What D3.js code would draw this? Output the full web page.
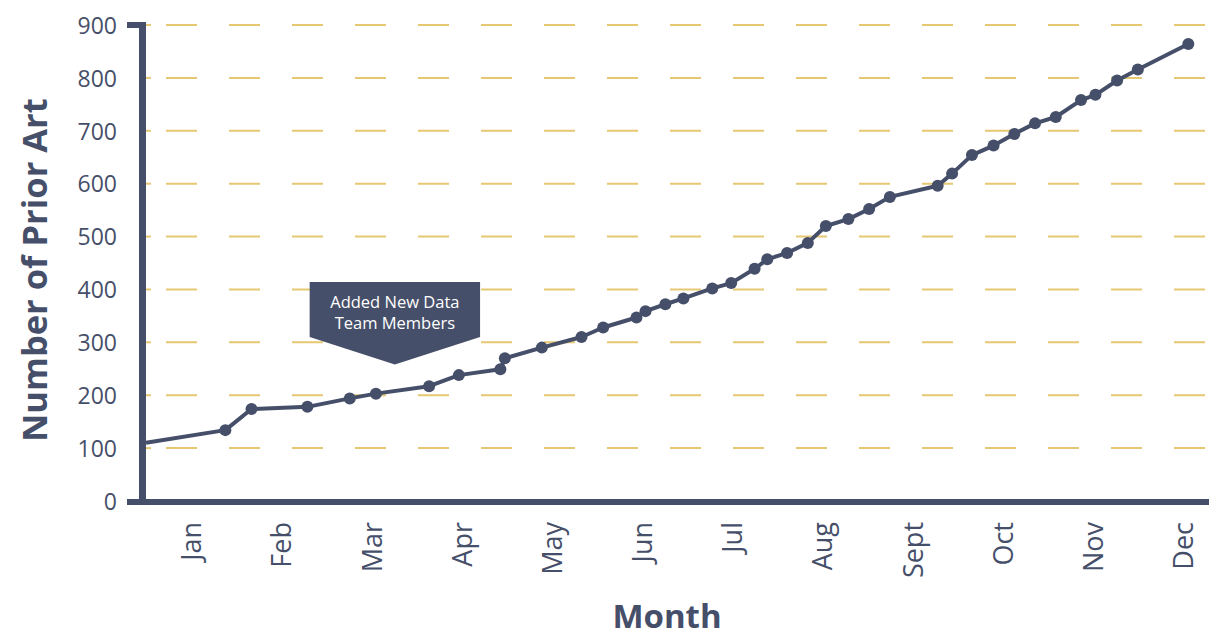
<!DOCTYPE html>
<html>
<head>
<meta charset="utf-8">
<script src="https://cdn.jsdelivr.net/npm/d3@7/dist/d3.min.js"></script>
<style>
  html, body { margin: 0; padding: 0; background: #ffffff; }
  svg { display: block; font-family: "Open Sans", "Noto Sans", sans-serif; }
</style>
</head>
<body>
<svg id="chart" width="1209" height="637"></svg>
<script>
// ---- data ----
const months = ["Jan", "Feb", "Mar", "Apr", "May", "Jun", "Jul", "Aug", "Sept", "Oct", "Nov", "Dec"];
const yTicks = [0, 100, 200, 300, 400, 500, 600, 700, 800, 900];
// x position in months (0 = Jan), first point starts at the axis
const monthPos = [-0.5, 0.38, 0.67, 1.29, 1.76, 2.05, 2.64, 2.97, 3.43, 3.48, 3.89, 4.33, 4.57, 4.94, 5.04,
  5.26, 5.46, 5.78, 5.99, 6.25, 6.39, 6.61, 6.84, 7.04, 7.29, 7.52, 7.75, 8.28, 8.44, 8.66, 8.90,
  9.13, 9.36, 9.59, 9.87, 10.03, 10.27, 10.50, 11.06];
const priorArt = [110, 134, 174, 178, 194, 203, 217, 238, 249, 270, 290, 310, 328, 347, 359,
  372, 383, 402, 412, 439, 457, 469, 488, 520, 533, 552, 575, 596, 619, 654, 672,
  694, 714, 726, 758, 768, 795, 816, 864];
const annotationLines = ["Added New Data", "Team Members"];
const annotationTip = { month: 2.26, value: 258 };
const annotationBox = { halfWidth: 0.945, top: 414, bottom: 310 };

const points = monthPos.map((m, i) => ({ m, v: priorArt[i], i }));

// ---- styling ----
const ink = "#464f69";
const gold = "#e6c872";

const svg = d3.select("#chart");
const x = d3.scaleLinear().domain([-0.5, 11.5]).range([146, 1228]);
const y = d3.scaleLinear().domain([0, 900]).range([501, 25]);

// gridlines
const grid = svg.append("g");
yTicks.filter(d => d > 0).forEach(t => {
  grid.append("line")
    .attr("x1", 146).attr("x2", 151)
    .attr("y1", y(t)).attr("y2", y(t))
    .attr("stroke", gold).attr("stroke-width", 2);
  grid.append("line")
    .attr("x1", 166).attr("x2", 1209)
    .attr("y1", y(t)).attr("y2", y(t))
    .attr("stroke", gold).attr("stroke-width", 2)
    .attr("stroke-dasharray", "31 32");
});

// y axis labels
const yAxis = d3.axisLeft(y).tickValues(yTicks).tickSize(0).tickPadding(26);
const gy = svg.append("g").attr("transform", "translate(143,0)").call(yAxis);
gy.select(".domain").remove();
gy.selectAll("text")
  .attr("fill", ink)
  .attr("font-size", "23px")
  .attr("font-family", "'Open Sans', sans-serif")
  .attr("dy", "0.36em");

// x axis labels
const xAxis = d3.axisBottom(x).tickValues(d3.range(months.length)).tickFormat(i => months[i]).tickSize(0);
const gx = svg.append("g").attr("transform", "translate(0,502)").call(xAxis);
gx.select(".domain").remove();
gx.selectAll("text")
  .attr("fill", ink)
  .attr("font-size", "27px")
  .attr("font-family", "'Open Sans', sans-serif")
  .attr("text-anchor", "end")
  .attr("transform", "rotate(-90)")
  .attr("x", -20)
  .attr("y", 0)
  .attr("dy", "0.36em");

// axis lines
svg.append("line").attr("x1", 127).attr("x2", 146).attr("y1", y(900)).attr("y2", y(900))
  .attr("stroke", ink).attr("stroke-width", 6);
svg.append("line").attr("x1", 127).attr("x2", 1209).attr("y1", 502).attr("y2", 502)
  .attr("stroke", ink).attr("stroke-width", 6);
svg.append("line").attr("x1", 142.5).attr("x2", 142.5).attr("y1", 22).attr("y2", 505)
  .attr("stroke", ink).attr("stroke-width", 7);

// line
const line = d3.line().x(d => x(d.m)).y(d => y(d.v));
svg.append("path").datum(points)
  .attr("d", line)
  .attr("fill", "none")
  .attr("stroke", ink)
  .attr("stroke-width", 4)
  .attr("stroke-linejoin", "round");

svg.append("g").selectAll("circle")
  .data(points.filter(d => d.i > 0))
  .join("circle")
  .attr("cx", d => x(d.m))
  .attr("cy", d => y(d.v))
  .attr("r", 6)
  .attr("fill", ink);

// annotation banner
const ax0 = x(annotationTip.month - annotationBox.halfWidth);
const ax1 = x(annotationTip.month + annotationBox.halfWidth);
const ayTop = y(annotationBox.top);
const ayBot = y(annotationBox.bottom);
const tipX = x(annotationTip.month), tipY = y(annotationTip.value);
svg.append("polygon")
  .attr("points", [[ax0, ayTop], [ax1, ayTop], [ax1, ayBot], [tipX, tipY], [ax0, ayBot]].map(p => p.join(",")).join(" "))
  .attr("fill", ink);
svg.append("g").selectAll("text")
  .data(annotationLines)
  .join("text")
  .attr("x", tipX)
  .attr("y", (d, i) => ayTop + 25.5 + i * 21)
  .attr("text-anchor", "middle")
  .attr("fill", "#ffffff")
  .attr("font-size", "16.5px")
  .text(d => d);

// axis titles
svg.append("text")
  .attr("transform", "translate(47,270) rotate(-90)")
  .attr("text-anchor", "middle")
  .attr("fill", ink)
  .attr("font-size", "34.5px")
  .attr("font-weight", "bold")
  .text("Number of Prior Art");

svg.append("text")
  .attr("x", 667).attr("y", 628)
  .attr("text-anchor", "middle")
  .attr("fill", ink)
  .attr("font-size", "33px")
  .attr("font-weight", "bold")
  .text("Month");
</script>
</body>
</html>
